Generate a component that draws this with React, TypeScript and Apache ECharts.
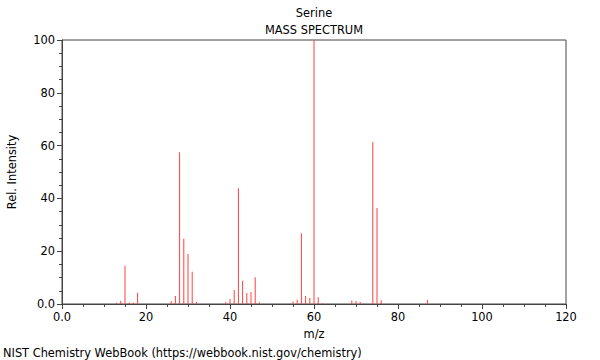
import React, { useEffect, useRef } from "react";
import * as echarts from "echarts";

const mzValues = [13, 14, 15, 16, 17, 18, 26, 27, 28, 29, 30, 31, 32, 39, 40, 41, 42, 43, 44, 45, 46, 47, 55, 56, 57, 58, 59, 60, 61, 62, 69, 70, 71, 74, 75, 76, 87];
const intensities = [0.5, 1.2, 14.5, 0.6, 0.5, 4.3, 1.1, 3.0, 57.5, 24.7, 18.9, 12.2, 0.8, 0.7, 1.9, 5.3, 43.8, 8.8, 4.2, 4.5, 10.1, 0.7, 0.9, 1.6, 26.8, 3.0, 2.3, 100, 2.6, 0.3, 1.3, 1.1, 0.8, 61.4, 36.4, 1.4, 1.5];
const titleLines = ["Serine", "MASS SPECTRUM"];
const xAxisTitle = "m/z";
const yAxisTitle = "Rel. Intensity";
const footer = "NIST Chemistry WebBook (https://webbook.nist.gov/chemistry)";

const FONT = "DejaVu Sans";
const FS = 11.4;

export default function App() {
  const ref = useRef<HTMLDivElement>(null);
  useEffect(() => {
    if (!ref.current) return;
    const chart = echarts.init(ref.current, undefined, { renderer: "svg" });
    const fmt = (v: number) => (v === 0 ? "0.0" : String(v));
    chart.setOption({
      animation: false,
      textStyle: { fontFamily: FONT },
      grid: {
        left: 62,
        right: 34,
        top: 40,
        bottom: 56,
        show: true,
        borderColor: "#444",
        borderWidth: 1,
        backgroundColor: "transparent",
        outerBoundsMode: "none",
        containLabel: false,
      },
      graphic: [
        {
          type: "text",
          x: 314,
          y: 13,
          style: { text: titleLines[0], font: `${FS}px ${FONT}`, fill: "#000", textAlign: "center", textVerticalAlign: "middle" },
        },
        {
          type: "text",
          x: 314,
          y: 30,
          style: { text: titleLines[1], font: `${FS}px ${FONT}`, fill: "#000", textAlign: "center", textVerticalAlign: "middle" },
        },
        {
          type: "text",
          x: 3,
          y: 353,
          style: { text: footer, font: `${FS}px ${FONT}`, fill: "#000", textAlign: "left", textVerticalAlign: "middle" },
        },
      ],
      xAxis: {
        type: "value",
        min: 0,
        max: 120,
        interval: 20,
        name: xAxisTitle,
        nameLocation: "middle",
        nameGap: 24,
        nameTextStyle: { fontFamily: FONT, fontSize: FS, color: "#000" },
        axisLine: { show: true, onZero: false, lineStyle: { color: "#444", width: 1 } },
        axisTick: { show: true, length: 5, lineStyle: { color: "#444" } },
        minorTick: { show: true, splitNumber: 4, length: 3, lineStyle: { color: "#444" } },
        splitLine: { show: false },
        axisLabel: { formatter: fmt, fontFamily: FONT, fontSize: FS, color: "#000", margin: 7 },
      },
      yAxis: {
        type: "value",
        min: 0,
        max: 100,
        interval: 20,
        name: yAxisTitle,
        nameLocation: "middle",
        nameGap: 45,
        nameRotate: 90,
        nameTextStyle: { fontFamily: FONT, fontSize: FS, color: "#000" },
        axisLine: { show: true, onZero: false, lineStyle: { color: "#444", width: 1 } },
        axisTick: { show: true, length: 5, lineStyle: { color: "#444" } },
        minorTick: { show: true, splitNumber: 4, length: 3, lineStyle: { color: "#444" } },
        splitLine: { show: false },
        axisLabel: { formatter: fmt, fontFamily: FONT, fontSize: FS, color: "#000", margin: 7 },
      },
      series: [
        {
          type: "bar",
          data: mzValues.map((m, i) => [m, intensities[i]]),
          barWidth: 1,
          itemStyle: { color: "#ff4040" },
          silent: true,
        },
      ],
    });
    return () => chart.dispose();
  }, []);
  return <div ref={ref} style={{ width: 600, height: 360, position: "absolute", left: 0, top: 0 }} />;
}
